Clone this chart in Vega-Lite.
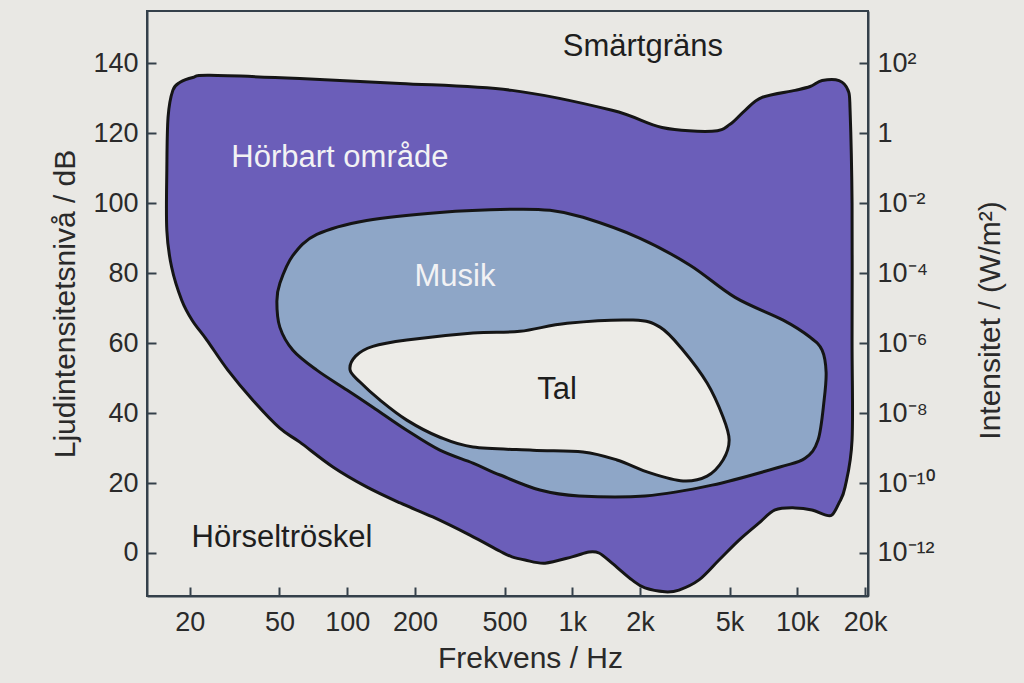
{
  "$schema": "https://vega.github.io/schema/vega-lite/v6.json",
  "width": 721,
  "height": 585,
  "autosize": {"type": "none"},
  "padding": {"left": 147, "top": 11, "right": 156, "bottom": 87},
  "background": "#e9e8e4",
  "config": {
    "view": {"stroke": "#34404a", "strokeWidth": 2},
    "font": "Liberation Sans"
  },
  "data": {
    "values": [
      {"s": "o", "i": 1, "f": 18.4, "db": 72.3},
      {"s": "o", "i": 2, "f": 16.6, "db": 81.7},
      {"s": "o", "i": 3, "f": 15.8, "db": 92.3},
      {"s": "o", "i": 4, "f": 15.8, "db": 109.4},
      {"s": "o", "i": 5, "f": 16.0, "db": 124.6},
      {"s": "o", "i": 6, "f": 16.8, "db": 132.3},
      {"s": "o", "i": 7, "f": 18.1, "db": 134.6},
      {"s": "o", "i": 8, "f": 20.6, "db": 136},
      {"s": "o", "i": 9, "f": 24.5, "db": 136.6},
      {"s": "o", "i": 10, "f": 61.6, "db": 135.7},
      {"s": "o", "i": 11, "f": 172, "db": 134.3},
      {"s": "o", "i": 12, "f": 540, "db": 132.3},
      {"s": "o", "i": 13, "f": 1502, "db": 126.6},
      {"s": "o", "i": 14, "f": 2506, "db": 121.7},
      {"s": "o", "i": 15, "f": 4178, "db": 120.6},
      {"s": "o", "i": 16, "f": 5024, "db": 122.6},
      {"s": "o", "i": 17, "f": 5860, "db": 126.6},
      {"s": "o", "i": 18, "f": 6970, "db": 130.3},
      {"s": "o", "i": 19, "f": 9776, "db": 132.3},
      {"s": "o", "i": 20, "f": 11400, "db": 133.4},
      {"s": "o", "i": 21, "f": 12880, "db": 135.1},
      {"s": "o", "i": 22, "f": 15320, "db": 135.1},
      {"s": "o", "i": 23, "f": 16800, "db": 132.3},
      {"s": "o", "i": 24, "f": 17150, "db": 126.6},
      {"s": "o", "i": 25, "f": 17500, "db": 100},
      {"s": "o", "i": 26, "f": 17500, "db": 60.9},
      {"s": "o", "i": 27, "f": 17500, "db": 32.3},
      {"s": "o", "i": 28, "f": 16300, "db": 18.9},
      {"s": "o", "i": 29, "f": 15320, "db": 14.3},
      {"s": "o", "i": 30, "f": 14260, "db": 10.9},
      {"s": "o", "i": 31, "f": 13270, "db": 10.9},
      {"s": "o", "i": 32, "f": 11610, "db": 12.3},
      {"s": "o", "i": 33, "f": 9776, "db": 12.9},
      {"s": "o", "i": 34, "f": 7962, "db": 12.3},
      {"s": "o", "i": 35, "f": 6760, "db": 8.6},
      {"s": "o", "i": 36, "f": 5508, "db": 3.7},
      {"s": "o", "i": 37, "f": 4488, "db": -2.0},
      {"s": "o", "i": 38, "f": 3656, "db": -7.7},
      {"s": "o", "i": 39, "f": 2980, "db": -10.6},
      {"s": "o", "i": 40, "f": 2582, "db": -11.1},
      {"s": "o", "i": 41, "f": 2104, "db": -10},
      {"s": "o", "i": 42, "f": 1842, "db": -7.7},
      {"s": "o", "i": 43, "f": 1502, "db": -2.9},
      {"s": "o", "i": 44, "f": 1314, "db": 0},
      {"s": "o", "i": 45, "f": 1186, "db": 0.3},
      {"s": "o", "i": 46, "f": 998, "db": -1.1},
      {"s": "o", "i": 47, "f": 757, "db": -2.9},
      {"s": "o", "i": 48, "f": 617, "db": -2.0},
      {"s": "o", "i": 49, "f": 540, "db": -1.1},
      {"s": "o", "i": 50, "f": 478, "db": 0.5},
      {"s": "o", "i": 51, "f": 351, "db": 5.1},
      {"s": "o", "i": 52, "f": 240, "db": 10.3},
      {"s": "o", "i": 53, "f": 172, "db": 14.3},
      {"s": "o", "i": 54, "f": 122, "db": 18.9},
      {"s": "o", "i": 55, "f": 86.4, "db": 24.6},
      {"s": "o", "i": 56, "f": 61.6, "db": 31.7},
      {"s": "o", "i": 57, "f": 50.2, "db": 35.7},
      {"s": "o", "i": 58, "f": 38.1, "db": 43.7},
      {"s": "o", "i": 59, "f": 29.5, "db": 52.3},
      {"s": "o", "i": 60, "f": 23.8, "db": 60.9},
      {"s": "o", "i": 61, "f": 20.5, "db": 66.5},
      {"s": "m", "i": 1, "f": 48.7, "db": 72},
      {"s": "m", "i": 2, "f": 50.2, "db": 77.1},
      {"s": "m", "i": 3, "f": 57.4, "db": 85.1},
      {"s": "m", "i": 4, "f": 73.3, "db": 91.1},
      {"s": "m", "i": 5, "f": 122, "db": 95.1},
      {"s": "m", "i": 6, "f": 258, "db": 97.4},
      {"s": "m", "i": 7, "f": 540, "db": 98.3},
      {"s": "m", "i": 8, "f": 796, "db": 98},
      {"s": "m", "i": 9, "f": 1116, "db": 96},
      {"s": "m", "i": 10, "f": 2000, "db": 90},
      {"s": "m", "i": 11, "f": 3334, "db": 82.3},
      {"s": "m", "i": 12, "f": 5285, "db": 73.1},
      {"s": "m", "i": 13, "f": 8650, "db": 66.6},
      {"s": "m", "i": 14, "f": 11400, "db": 61.7},
      {"s": "m", "i": 15, "f": 12880, "db": 58},
      {"s": "m", "i": 16, "f": 13420, "db": 51.7},
      {"s": "m", "i": 17, "f": 13150, "db": 43.7},
      {"s": "m", "i": 18, "f": 12360, "db": 32.3},
      {"s": "m", "i": 19, "f": 10820, "db": 27.1},
      {"s": "m", "i": 20, "f": 8370, "db": 24.6},
      {"s": "m", "i": 21, "f": 4178, "db": 19.4},
      {"s": "m", "i": 22, "f": 2104, "db": 16.3},
      {"s": "m", "i": 23, "f": 1072, "db": 16.3},
      {"s": "m", "i": 24, "f": 718, "db": 18},
      {"s": "m", "i": 25, "f": 478, "db": 22.3},
      {"s": "m", "i": 26, "f": 362, "db": 25.7},
      {"s": "m", "i": 27, "f": 258, "db": 29.4},
      {"s": "m", "i": 28, "f": 184, "db": 35.1},
      {"s": "m", "i": 29, "f": 130, "db": 41.7},
      {"s": "m", "i": 30, "f": 99.8, "db": 46.6},
      {"s": "m", "i": 31, "f": 73.3, "db": 52.3},
      {"s": "m", "i": 32, "f": 57.4, "db": 58},
      {"s": "m", "i": 33, "f": 50.2, "db": 64.6},
      {"s": "t", "i": 1, "f": 103, "db": 52.3},
      {"s": "t", "i": 2, "f": 109, "db": 56.3},
      {"s": "t", "i": 3, "f": 130, "db": 59.1},
      {"s": "t", "i": 4, "f": 184, "db": 60.9},
      {"s": "t", "i": 5, "f": 362, "db": 62.9},
      {"s": "t", "i": 6, "f": 586, "db": 63.4},
      {"s": "t", "i": 7, "f": 948, "db": 65.7},
      {"s": "t", "i": 8, "f": 1862, "db": 66.6},
      {"s": "t", "i": 9, "f": 2454, "db": 64.6},
      {"s": "t", "i": 10, "f": 3106, "db": 58},
      {"s": "t", "i": 11, "f": 3972, "db": 48.6},
      {"s": "t", "i": 12, "f": 4676, "db": 38.9},
      {"s": "t", "i": 13, "f": 4978, "db": 32.3},
      {"s": "t", "i": 14, "f": 4676, "db": 26.6},
      {"s": "t", "i": 15, "f": 3972, "db": 22},
      {"s": "t", "i": 16, "f": 3106, "db": 20.6},
      {"s": "t", "i": 17, "f": 2216, "db": 22.9},
      {"s": "t", "i": 18, "f": 1580, "db": 26.6},
      {"s": "t", "i": 19, "f": 1116, "db": 28.9},
      {"s": "t", "i": 20, "f": 668, "db": 29.4},
      {"s": "t", "i": 21, "f": 362, "db": 30.3},
      {"s": "t", "i": 22, "f": 258, "db": 33.1},
      {"s": "t", "i": 23, "f": 184, "db": 38},
      {"s": "t", "i": 24, "f": 140, "db": 43.7},
      {"s": "t", "i": 25, "f": 114, "db": 48.9}
    ]
  },
  "encoding": {
    "x": {
      "field": "f",
      "type": "quantitative",
      "scale": {"type": "log", "domain": [12.9, 20600], "nice": false},
      "axis": {
        "orient": "bottom",
        "values": [20, 50, 100, 200, 500, 1000, 2000, 5000, 10000, 20000],
        "labelExpr": "datum.value >= 1000 ? (datum.value / 1000) + 'k' : '' + datum.value",
        "title": "Frekvens / Hz",
        "grid": false,
        "tickSize": -9,
        "tickWidth": 2,
        "tickColor": "#34404a",
        "domainColor": "#34404a",
        "domainWidth": 2,
        "labelFontSize": 27,
        "labelColor": "#2a2a2a",
        "labelPadding": 22,
        "labelFlush": false,
        "labelOverlap": false,
        "labelBound": false,
        "titleFontSize": 30,
        "titleFontWeight": "normal",
        "titleColor": "#2a2a2a",
        "titlePadding": 8,
        "titleX": 383
      }
    },
    "y": {
      "field": "db",
      "type": "quantitative",
      "scale": {"domain": [-12.3, 155], "nice": false, "zero": false},
      "axis": null
    }
  },
  "layer": [
    {
      "transform": [{"filter": "datum.s == 'o'"}],
      "mark": {"type": "line", "interpolate": "cardinal-closed", "fill": "#6b5eb9", "stroke": "#151515", "strokeWidth": 3, "strokeJoin": "round"},
      "encoding": {
        "order": {"field": "i", "type": "quantitative"},
        "y": {
          "field": "db",
          "type": "quantitative",
          "axis": {
            "orient": "left",
            "values": [0, 20, 40, 60, 80, 100, 120, 140],
            "title": "Ljudintensitetsnivå / dB",
            "grid": false,
            "tickSize": -9,
            "tickWidth": 2,
            "tickColor": "#34404a",
            "domainColor": "#34404a",
            "domainWidth": 2,
            "labelFontSize": 27,
            "labelColor": "#2a2a2a",
            "labelPadding": 18,
            "labelOverlap": false,
            "labelBound": false,
            "titleFontSize": 30,
            "titleFontWeight": "normal",
            "titleColor": "#2a2a2a",
            "titlePadding": 12
          }
        }
      }
    },
    {
      "transform": [{"filter": "datum.s == 'm'"}],
      "mark": {"type": "line", "interpolate": "cardinal-closed", "fill": "#8ea6c7", "stroke": "#151515", "strokeWidth": 3, "strokeJoin": "round"},
      "encoding": {"order": {"field": "i", "type": "quantitative"}}
    },
    {
      "transform": [{"filter": "datum.s == 't'"}],
      "mark": {"type": "line", "interpolate": "cardinal-closed", "fill": "#ecebe7", "stroke": "#151515", "strokeWidth": 3, "strokeJoin": "round"},
      "encoding": {"order": {"field": "i", "type": "quantitative"}}
    },
    {
      "data": {"values": [
        {"label": "Hörbart område", "f": 92.8, "db": 113},
        {"label": "Musik", "f": 301, "db": 78.9}
      ]},
      "mark": {"type": "text", "fontSize": 31, "color": "#f2f2f4", "align": "center", "baseline": "middle"},
      "encoding": {"text": {"field": "label"}}
    },
    {
      "data": {"values": [
        {"label": "Smärtgräns", "f": 2060, "db": 144.6},
        {"label": "Tal", "f": 855, "db": 46.6},
        {"label": "Hörseltröskel", "f": 51.3, "db": 4.3}
      ]},
      "mark": {"type": "text", "fontSize": 31, "color": "#1e1e1e", "align": "center", "baseline": "middle"},
      "encoding": {"text": {"field": "label"}}
    },
    {
      "data": {"values": [{"f": 1000, "db": 0}, {"f": 1000, "db": 140}]},
      "mark": {"type": "point", "opacity": 0},
      "encoding": {
        "y": {
          "field": "db",
          "type": "quantitative",
          "axis": {
            "orient": "right",
            "values": [0, 20, 40, 60, 80, 100, 120, 140],
            "labelExpr": "datum.value == 140 ? '10²' : datum.value == 120 ? '1' : datum.value == 100 ? '10⁻²' : datum.value == 80 ? '10⁻⁴' : datum.value == 60 ? '10⁻⁶' : datum.value == 40 ? '10⁻⁸' : datum.value == 20 ? '10⁻¹⁰' : '10⁻¹²'",
            "title": "Intensitet / (W/m²)",
            "titleAngle": 270,
            "titleBaseline": "middle",
            "titleAlign": "center",
            "titleX": 122,
            "titleY": 309,
            "grid": false,
            "tickSize": -9,
            "tickWidth": 2,
            "tickColor": "#34404a",
            "domainColor": "#34404a",
            "domainWidth": 2,
            "labelFontSize": 27,
            "labelColor": "#2a2a2a",
            "labelPadding": 18,
            "labelOverlap": false,
            "labelBound": false,
            "titleFontSize": 30,
            "titleFontWeight": "normal",
            "titleColor": "#2a2a2a"
          }
        }
      }
    }
  ],
  "resolve": {"axis": {"y": "independent"}}
}
